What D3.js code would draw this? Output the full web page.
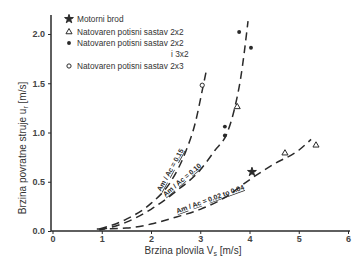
<!DOCTYPE html>
<html>
<head>
<meta charset="utf-8">
<script src="https://cdn.jsdelivr.net/npm/d3@7"></script>
<style>
  body { margin: 0; background: #fff; }
  svg { display: block; font-family: "Liberation Sans", Arial, sans-serif; }
</style>
</head>
<body>
<div id="chart"></div>
<script>
// Chart data
var xTicks = [0, 1, 2, 3, 4, 5, 6];
var yTicks = [0, 0.5, 1.0, 1.5, 2.0];

// dashed curves, Am/Ac ratios
var curve015 = [[0.95, 0.02], [1.5, 0.12], [2.0, 0.28], [2.4, 0.5], [2.7, 0.8], [2.9, 1.1], [3.05, 1.45], [3.12, 1.62]];
var curve010 = [[0.95, 0.01], [1.5, 0.09], [2.0, 0.22], [2.5, 0.4], [3.0, 0.62], [3.3, 0.82], [3.55, 1.0], [3.7, 1.25], [3.82, 1.55], [3.97, 2.13]];
var curve002 = [[0.9, 0.02], [1.5, 0.03], [2.0, 0.07], [2.5, 0.14], [3.0, 0.22], [3.5, 0.34], [4.0, 0.52], [4.5, 0.68], [5.0, 0.82], [5.25, 0.93]];

// measured points
var motorniBrod = [[4.05, 0.60]];
var sastav2x2 = [[3.75, 1.26], [4.72, 0.79], [5.35, 0.87]];
var sastav2x2i3x2 = [[3.79, 2.02], [4.03, 1.86], [3.50, 1.06], [3.50, 0.97]];
var sastav2x3 = [[3.04, 1.48]];

// curve labels: [x, y, text-after-equals, angle]
var curveLabels = [
  [2.39, 0.62, "0.15", -61],
  [2.63, 0.52, "0.10", -40],
  [3.2, 0.325, "0.02 to 0.04", -20]
];

var width = 358, height = 259;
var ink = "#2a2a2a";

var svg = d3.select("#chart").append("svg")
  .attr("width", width)
  .attr("height", height);

var x = d3.scaleLinear().domain([0, 6]).range([52.5, 348]);
var y = d3.scaleLinear().domain([0, 2]).range([231, 34]);

// axes
var xAxis = svg.append("g")
  .attr("transform", "translate(0," + y(0) + ")")
  .call(d3.axisBottom(x).tickValues(xTicks).tickFormat(d3.format("d")).tickSize(3).tickSizeOuter(0));
xAxis.select(".domain").attr("stroke", ink).attr("stroke-width", 1.5).attr("d", "M51,0H350");
xAxis.selectAll(".tick line").attr("stroke", ink);
xAxis.selectAll(".tick text").attr("fill", "#444").attr("font-size", 9).attr("font-weight", "bold").attr("dy", "0.55em");

var yAxis = svg.append("g")
  .attr("transform", "translate(" + 51 + ",0)")
  .call(d3.axisLeft(y).tickValues(yTicks).tickFormat(d3.format(".1f")).tickSize(3).tickSizeOuter(0));
yAxis.select(".domain").attr("stroke", ink).attr("stroke-width", 1.5).attr("d", "M0,15V" + y(0));
yAxis.selectAll(".tick line").attr("stroke", ink);
yAxis.selectAll(".tick text").attr("fill", "#444").attr("font-size", 9).attr("font-weight", "bold");

// axis titles
var xTitle = svg.append("text")
  .attr("x", 193).attr("y", 254)
  .attr("text-anchor", "middle")
  .attr("font-size", 10)
  .attr("fill", "#333");
xTitle.append("tspan").text("Brzina plovila V");
xTitle.append("tspan").attr("font-size", 7).attr("dy", 2).text("s");
xTitle.append("tspan").attr("dy", -2).text(" [m/s]");

var yTitle = svg.append("text")
  .attr("transform", "translate(26,148)rotate(-90)")
  .attr("text-anchor", "middle")
  .attr("font-size", 10)
  .attr("fill", "#333");
yTitle.append("tspan").text("Brzina povratne struje u");
yTitle.append("tspan").attr("font-size", 7).attr("dy", 2).text("r");
yTitle.append("tspan").attr("dy", -2).text(" [m/s]");

// dashed curves
var line = d3.line()
  .x(function(d) { return x(d[0]); })
  .y(function(d) { return y(d[1]); })
  .curve(d3.curveMonotoneX);

[curve015, curve010, curve002].forEach(function(c) {
  svg.append("path")
    .datum(c)
    .attr("d", line)
    .attr("fill", "none")
    .attr("stroke", ink)
    .attr("stroke-width", 1.5)
    .attr("stroke-dasharray", "8,5");
});

// curve labels
curveLabels.forEach(function(l) {
  var t = svg.append("text")
    .attr("transform", "translate(" + x(l[0]) + "," + y(l[1]) + ")rotate(" + l[3] + ")")
    .attr("text-anchor", "middle")
    .attr("dy", "0.35em")
    .attr("font-size", 7)
    .attr("font-weight", "bold")
    .attr("fill", ink);
  t.append("tspan").attr("text-decoration", "underline").text("Am");
  t.append("tspan").text(" / ");
  t.append("tspan").attr("text-decoration", "underline").text("Ac");
  t.append("tspan").text(" = ");
  t.append("tspan").attr("text-decoration", "underline").text(l[2]);
});

// point markers
var star = d3.symbol().type(d3.symbolStar).size(24)();
var tri = d3.symbol().type(d3.symbolTriangle).size(16)();
var dot = d3.symbol().type(d3.symbolCircle).size(12)();
var ring = d3.symbol().type(d3.symbolCircle).size(14)();
function drawPoints(data, shape, fill, stroke) {
  svg.selectAll(null).data(data).enter()
    .append("path")
    .attr("d", shape)
    .attr("transform", function(d) { return "translate(" + x(d[0]) + "," + y(d[1]) + ")"; })
    .attr("fill", fill)
    .attr("stroke", stroke)
    .attr("stroke-width", 1);
}
drawPoints(motorniBrod, star, ink, ink);
drawPoints(sastav2x2, tri, "#fff", ink);
drawPoints(sastav2x2i3x2, dot, ink, "none");
drawPoints(sastav2x3, ring, "#fff", ink);

// legend
var legend = svg.append("g").attr("font-size", 8.3).attr("fill", "#333");
var legendRows = [
  { y: 19, shape: star, fill: ink, stroke: ink, label: "Motorni brod" },
  { y: 32, shape: tri, fill: "#fff", stroke: ink, label: "Natovaren potisni sastav 2x2" },
  { y: 43, shape: dot, fill: ink, stroke: "none", label: "Natovaren potisni sastav 2x2" },
  { y: 66, shape: ring, fill: "#fff", stroke: ink, label: "Natovaren potisni sastav 2x3" }
];
legendRows.forEach(function(r) {
  legend.append("path")
    .attr("d", r.shape)
    .attr("transform", "translate(69," + r.y + ")")
    .attr("fill", r.fill)
    .attr("stroke", r.stroke);
  legend.append("text")
    .attr("x", 77).attr("y", r.y + 3)
    .text(r.label);
});
legend.append("text").attr("x", 171).attr("y", 57).text("i 3x2");
</script>
</body>
</html>
